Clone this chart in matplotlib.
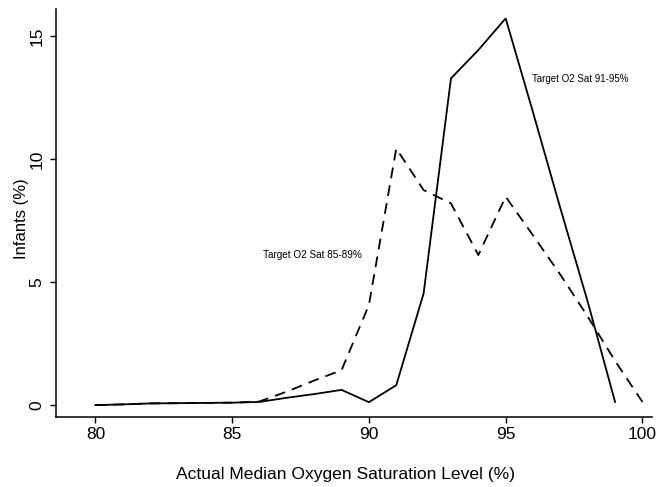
import matplotlib
matplotlib.use("Agg")
import matplotlib.pyplot as plt

plt.rcParams['font.family'] = ['Liberation Sans', 'DejaVu Sans']

# Actual median oxygen saturation (%)
saturation = [80, 81, 82, 83, 84, 85, 86, 87, 88, 89, 90, 91, 92, 93, 94, 95, 96, 97, 98, 99, 100]

# Infants (%) in the 91-95% target group (solid line, ends at 99)
high_target = [0.0, 0.03, 0.07, 0.08, 0.09, 0.1, 0.13, 0.3, 0.45, 0.62, 0.12, 0.81, 4.54, 13.28, 14.43, 15.72,
               11.9, 8.0, 4.2, 0.13]

# Infants (%) in the 85-89% target group (dashed line)
low_target = [0.0, 0.03, 0.07, 0.08, 0.09, 0.1, 0.15, 0.55, 1.0, 1.42, 4.07, 10.43, 8.74, 8.2, 6.1, 8.47,
              6.9, 5.3, 3.6, 1.8, 0.13]

x_ticks = [80, 85, 90, 95, 100]
y_ticks = [0, 5, 10, 15]

W, H = 658, 487
fig = plt.figure(figsize=(W / 100, H / 100), dpi=100)
left_px, right_px, top_px, bottom_px = 56, 652, 9, 416.7
ax = fig.add_axes([left_px / W, 1 - bottom_px / H, (right_px - left_px) / W, (bottom_px - top_px) / H])

ax.plot(saturation[:len(high_target)], high_target, color='black', lw=1.3, solid_joinstyle='miter')
ax.plot(saturation, low_target, color='black', lw=1.3, linestyle=(0, (6, 4)))

ax.set_xlim(78.56, 100.35)
ax.set_ylim(-0.47, 16.1)

for side in ('top', 'right'):
    ax.spines[side].set_visible(False)
for side in ('left', 'bottom'):
    ax.spines[side].set_linewidth(1.1)

ax.set_xticks(x_ticks)
ax.set_yticks(y_ticks)
ax.tick_params(axis='both', direction='out', length=4.3, width=1, labelsize=12.5, colors='black')
ax.tick_params(axis='x', pad=2.9)
ax.tick_params(axis='y', pad=3.9)
for lab in ax.get_yticklabels():
    lab.set_rotation(90)
    lab.set_va('center')

fig.text(346 / W, 1 - 474 / H, 'Actual Median Oxygen Saturation Level (%)', ha='center', va='center',
         fontsize=12.6)
fig.text(22 / W, 1 - 219 / H, 'Infants (%)', ha='center', va='center', rotation=90, fontsize=12)

ax.text(95.96, 13.25, 'Target O2 Sat 91-95%', ha='left', va='center', fontsize=7.0)
ax.text(86.12, 6.1, 'Target O2 Sat 85-89%', ha='left', va='center', fontsize=7.2)

fig.savefig('out.png', dpi=100)
